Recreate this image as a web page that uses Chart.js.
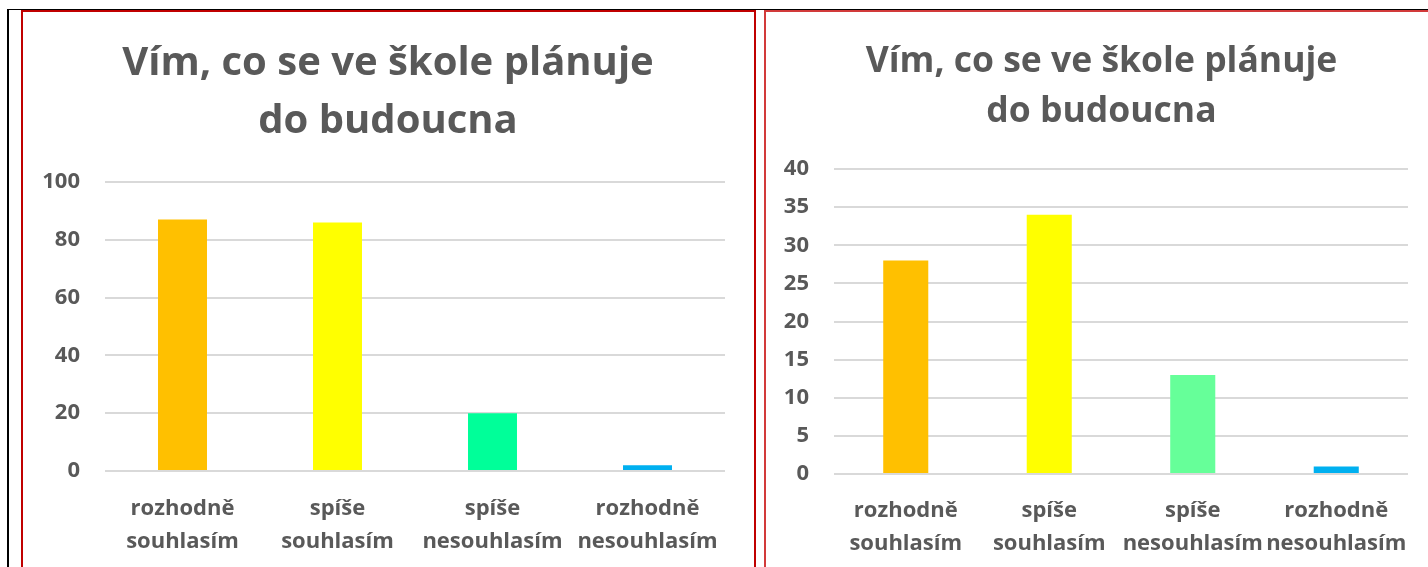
<!DOCTYPE html>
<html lang="cs">
<head>
<meta charset="utf-8">
<title>Vím, co se ve škole plánuje do budoucna</title>
<script src="https://cdn.jsdelivr.net/npm/chart.js@4/dist/chart.umd.min.js"></script>
<style>
    html, body {
        margin: 0;
        padding: 0;
        background: #fff;
        width: 1428px;
        height: 567px;
        overflow: hidden;
        position: relative;
    }
    .frame-top {
        position: absolute; left: 7px; top: 9px; width: 1421px; height: 1px; background: #000;
    }
    .frame-left {
        position: absolute; left: 7px; top: 9px; width: 2px; height: 558px; background: #000;
    }
    .panel {
        position: absolute; top: 10px; height: 600px; box-sizing: border-box;
        border: 2px solid #c00000; background: #fff;
    }
    #panel-left { left: 21px; width: 735px; }
    #panel-right { left: 764px; width: 700px; border-color: #d23a3a; }
    canvas { position: absolute; }
</style>
</head>
<body>
<div class="frame-top"></div>
<div class="frame-left"></div>
<div class="panel" id="panel-left"></div>
<div class="panel" id="panel-right"></div>
<canvas id="chartLeft" width="730" height="555" style="left:23px;top:12px"></canvas>
<canvas id="chartRight" width="669" height="555" style="left:767px;top:12px"></canvas>

<script>
// Answer categories (two-line labels)
const categories = [
    ['rozhodně', 'souhlasím'],
    ['spíše', 'souhlasím'],
    ['spíše', 'nesouhlasím'],
    ['rozhodně', 'nesouhlasím']
];
const titleLines = ['Vím, co se ve škole plánuje', 'do budoucna'];

// Counts of answers
const leftValues = [87, 86, 20, 2];
const rightValues = [28, 34, 13, 1];

const leftColors = ['#ffc000', '#ffff00', '#00ff99', '#00b0f0'];
const rightColors = ['#ffc000', '#ffff00', '#66ff99', '#00b0f0'];

const leftTicks = { max: 100, step: 20 };
const rightTicks = { max: 40, step: 5 };

const textColor = '#595959';
const fontFamily = '"Open Sans", "Noto Sans", sans-serif';

function buildChart(canvasId, values, colors, ticks, cfg) {
    const ctx = document.getElementById(canvasId).getContext('2d');
    return new Chart(ctx, {
        type: 'bar',
        data: {
            labels: categories,
            datasets: [{
                data: values,
                backgroundColor: colors,
                borderWidth: 0,
                barPercentage: cfg.barPct,
                categoryPercentage: 1
            }]
        },
        options: {
            responsive: false,
            animation: false,
            devicePixelRatio: 1,
            layout: { padding: 0 },
            plugins: {
                legend: { display: false },
                tooltip: { enabled: false },
                title: {
                    display: true,
                    text: titleLines,
                    color: textColor,
                    font: { family: fontFamily, size: cfg.titleSize, weight: 'bold', lineHeight: cfg.titleLine },
                    padding: { top: cfg.titleTop, bottom: cfg.titleBottom }
                }
            },
            scales: {
                x: {
                    grid: { display: false, drawTicks: false },
                    border: { display: false },
                    ticks: {
                        color: textColor,
                        padding: cfg.xPad,
                        maxRotation: 0,
                        autoSkip: false,
                        font: { family: fontFamily, size: 22, weight: 'bold', lineHeight: 1.5 }
                    },
                    afterFit: (scale) => { scale.height = cfg.xHeight; }
                },
                y: {
                    min: 0,
                    max: ticks.max,
                    grid: { color: '#d9d9d9', lineWidth: 2, drawTicks: false },
                    border: { display: false },
                    ticks: {
                        stepSize: ticks.step,
                        color: textColor,
                        padding: 25,
                        font: { family: fontFamily, size: 22, weight: 'bold' }
                    },
                    afterFit: (scale) => { scale.width = cfg.yWidth; }
                },
                // empty right-hand gutter so the plot ends short of the title box
                gutter: {
                    type: 'linear',
                    position: 'right',
                    grid: { display: false, drawTicks: false },
                    border: { display: false },
                    ticks: { display: false },
                    afterFit: (scale) => { scale.width = cfg.rightGap; }
                }
            }
        }
    });
}

buildChart('chartLeft', leftValues, leftColors, leftTicks, {
    barPct: 0.316, rightGap: 28, titleSize: 40, titleLine: 1.45,
    titleTop: 23, titleBottom: 31, xPad: 21, xHeight: 96, yWidth: 82
});

buildChart('chartRight', rightValues, rightColors, rightTicks, {
    barPct: 0.314, rightGap: 28, titleSize: 35.5, titleLine: 1.41,
    titleTop: 25, titleBottom: 32, xPad: 20, xHeight: 93, yWidth: 67
});
</script>
</body>
</html>
